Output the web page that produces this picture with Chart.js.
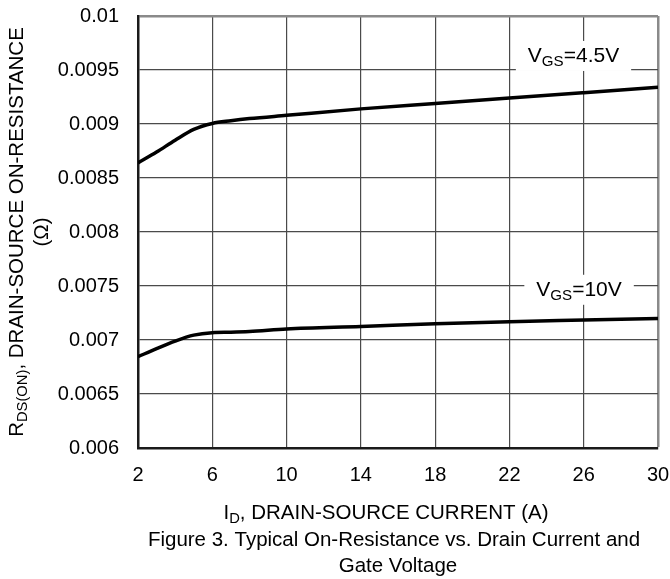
<!DOCTYPE html>
<html>
<head>
<meta charset="utf-8">
<script src="https://cdn.jsdelivr.net/npm/chart.js@4.4.0/dist/chart.umd.min.js"></script>
<style>
  html, body { margin: 0; padding: 0; background: #fff; }
  #wrap { width: 670px; height: 579px; position: relative; }
</style>
</head>
<body>
<div id="wrap"><canvas id="chart" width="670" height="579"></canvas></div>
<script>
// drain current (A)
const currentA = [2, 3, 4, 5, 6, 7, 8, 10, 14, 18, 22, 26, 30];
// on-resistance (ohm) per gate voltage
const rdsVgs45 = [0.00864, 0.00874, 0.00885, 0.00895, 0.009005, 0.00903, 0.00905, 0.00908, 0.00914, 0.00919, 0.00924, 0.00929, 0.00934];
const rdsVgs10 = [0.006845, 0.00692, 0.00699, 0.007045, 0.007068, 0.007072, 0.007078, 0.007102, 0.007125, 0.00715, 0.00717, 0.007185, 0.0072];

const xTicks = [2, 6, 10, 14, 18, 22, 26, 30];
const yTicks = [0.006, 0.0065, 0.007, 0.0075, 0.008, 0.0085, 0.009, 0.0095, 0.01];
const yTickLabels = ["0.006", "0.0065", "0.007", "0.0075", "0.008", "0.0085", "0.009", "0.0095", "0.01"];

const curveLabels = [
  { main: "V", sub: "GS", rest: "=4.5V", x: 25.45, y: 0.00963 },
  { main: "V", sub: "GS", rest: "=10V", x: 25.75, y: 0.007465 }
];

const FONT = "'Liberation Sans', Arial, sans-serif";

const toPoints = (ys) => currentA.map((x, i) => ({ x, y: ys[i] }));

// draw text with a subscript part, starting at x (left aligned), middle baseline
const drawRich = (ctx, parts, x, y, size) => {
  let cx = x;
  parts.forEach((p) => {
    const s = p.sub ? size * 0.72 : size;
    ctx.font = `${s}px ${FONT}`;
    ctx.fillText(p.text, cx, p.sub ? y + size * 0.3 : y);
    cx += ctx.measureText(p.text).width;
  });
  return cx - x;
};

const richWidth = (ctx, parts, size) => {
  let w = 0;
  parts.forEach((p) => {
    ctx.font = `${p.sub ? size * 0.72 : size}px ${FONT}`;
    w += ctx.measureText(p.text).width;
  });
  return w;
};

const textPlugin = {
  id: "texts",
  beforeDatasetsDraw(chart) {
    const { ctx, scales } = chart;
    ctx.save();
    ctx.textBaseline = "middle";
    curveLabels.forEach((lab) => {
      const parts = [{ text: lab.main }, { text: lab.sub, sub: true }, { text: lab.rest }];
      const size = 21;
      const w = richWidth(ctx, parts, size);
      const cx = scales.x.getPixelForValue(lab.x);
      const cy = scales.y.getPixelForValue(lab.y);
      ctx.fillStyle = "#fff";
      ctx.fillRect(cx - w / 2 - 12, cy - 15, w + 24, 30);
      ctx.fillStyle = "#000";
      drawRich(ctx, parts, cx - w / 2, cy, size);
    });
    ctx.restore();
  },
  afterDraw(chart) {
    const { ctx, chartArea } = chart;
    ctx.save();
    ctx.fillStyle = "#000";
    ctx.textBaseline = "middle";
    const size = 20.5;

    // y axis title, rotated
    const midY = (chartArea.top + chartArea.bottom) / 2;
    const yParts = [{ text: "R" }, { text: "DS(ON)", sub: true }, { text: ", DRAIN-SOURCE ON-RESISTANCE" }];
    ctx.save();
    ctx.translate(17, midY);
    ctx.rotate(-Math.PI / 2);
    const yw = richWidth(ctx, yParts, size);
    drawRich(ctx, yParts, -yw / 2, 0, size);
    ctx.font = `${size}px ${FONT}`;
    ctx.textAlign = "center";
    ctx.fillText("(\u03A9)", 0, 25);
    ctx.restore();

    // x axis title
    const xParts = [{ text: "I" }, { text: "D", sub: true }, { text: ", DRAIN-SOURCE CURRENT (A)" }];
    const xw = richWidth(ctx, xParts, size);
    drawRich(ctx, xParts, 386 - xw / 2, 513, size);

    // caption
    ctx.font = `${size}px ${FONT}`;
    ctx.textAlign = "center";
    ctx.fillText("Figure 3. Typical On-Resistance vs. Drain Current and", 394, 540);
    ctx.fillText("Gate Voltage", 398, 566);
    ctx.restore();
  }
};

const gridColor = (lastIndex) => (c) => (c.index === lastIndex ? "#8a8a8a" : "#4a4a4a");
const gridWidth = (lastIndex) => (c) => (c.index === lastIndex ? 2.5 : 1.2);

new Chart(document.getElementById("chart"), {
  type: "line",
  data: {
    datasets: [
      {
        label: "VGS=4.5V",
        data: toPoints(rdsVgs45),
        borderColor: "#000",
        borderWidth: 3.5,
        pointRadius: 0,
        cubicInterpolationMode: "monotone",
        fill: false
      },
      {
        label: "VGS=10V",
        data: toPoints(rdsVgs10),
        borderColor: "#000",
        borderWidth: 3.5,
        pointRadius: 0,
        cubicInterpolationMode: "monotone",
        fill: false
      }
    ]
  },
  options: {
    responsive: false,
    animation: false,
    layout: { padding: { left: 0, top: 16, right: 12, bottom: 0 } },
    plugins: { legend: { display: false }, tooltip: { enabled: false } },
    scales: {
      x: {
        type: "linear",
        min: 2,
        max: 30,
        afterBuildTicks: (s) => { s.ticks = xTicks.map((v) => ({ value: v })); },
        afterFit: (s) => { s.height = 131; s.paddingLeft = 0; s.paddingRight = 0; },
        ticks: { color: "#000", font: { family: FONT, size: 20 }, padding: 15, maxRotation: 0 },
        grid: { color: gridColor(xTicks.length - 1), lineWidth: gridWidth(xTicks.length - 1), drawTicks: false },
        border: { color: "#1a1a1a", width: 2.5 }
      },
      y: {
        type: "linear",
        min: 0.006,
        max: 0.01,
        afterBuildTicks: (s) => { s.ticks = yTicks.map((v) => ({ value: v })); },
        afterFit: (s) => { s.width = 138; s.paddingTop = 0; s.paddingBottom = 0; },
        ticks: {
          color: "#000",
          font: { family: FONT, size: 20 },
          padding: 19,
          callback: (v, i) => yTickLabels[i]
        },
        grid: { color: gridColor(yTicks.length - 1), lineWidth: gridWidth(yTicks.length - 1), drawTicks: false },
        border: { color: "#1a1a1a", width: 2.5 }
      }
    }
  },
  plugins: [textPlugin]
});
</script>
</body>
</html>
